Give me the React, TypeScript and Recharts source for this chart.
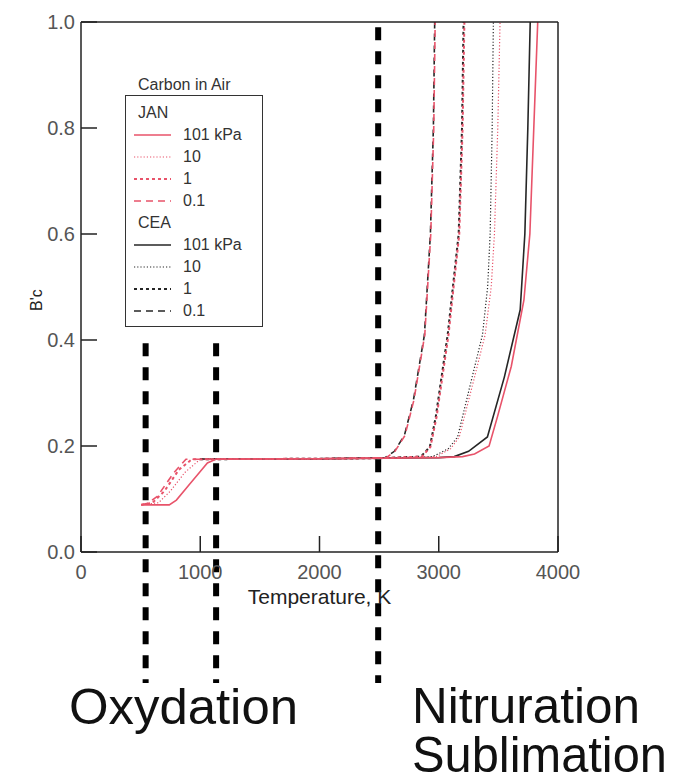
import React from 'react';
import { LineChart, Line, XAxis, YAxis, Legend, ReferenceLine } from 'recharts';

// temperatures (K) and B'c values, one pair of arrays per curve
const janTemp101 = [505, 740, 800, 900, 1000, 1060, 1130, 2000, 2500, 3000, 3200, 3300, 3422, 3492, 3608, 3714, 3764, 3797, 3830];
const janBc101 = [0.089, 0.089, 0.098, 0.125, 0.152, 0.168, 0.175, 0.176, 0.177, 0.178, 0.18, 0.185, 0.2, 0.255, 0.35, 0.475, 0.6, 0.8, 1.0];
const janTemp10 = [505, 650, 750, 870, 1000, 2000, 2500, 2980, 3100, 3172, 3300, 3389, 3440, 3467, 3495, 3514];
const janBc10 = [0.089, 0.093, 0.115, 0.15, 0.175, 0.176, 0.177, 0.18, 0.195, 0.217, 0.33, 0.41, 0.5, 0.6, 0.8, 1.0];
const janTemp1 = [505, 600, 700, 820, 930, 2000, 2500, 2860, 2930, 2982, 3082, 3172, 3200, 3215];
const janBc1 = [0.089, 0.093, 0.115, 0.155, 0.175, 0.176, 0.177, 0.18, 0.198, 0.255, 0.41, 0.6, 0.8, 1.0];
const janTemp01 = [505, 560, 640, 780, 880, 2000, 2560, 2633, 2717, 2792, 2883, 2933, 2958, 2970];
const janBc01 = [0.089, 0.092, 0.105, 0.15, 0.175, 0.176, 0.178, 0.19, 0.22, 0.287, 0.41, 0.6, 0.8, 1.0];

const ceaTemp101 = [1000, 2000, 2500, 3000, 3130, 3250, 3408, 3550, 3683, 3722, 3747, 3767];
const ceaBc101 = [0.175, 0.176, 0.177, 0.178, 0.18, 0.19, 0.217, 0.33, 0.457, 0.6, 0.8, 1.0];
const ceaTemp10 = [1000, 2000, 2500, 2950, 3080, 3158, 3280, 3367, 3410, 3431, 3448, 3458];
const ceaBc10 = [0.175, 0.176, 0.177, 0.18, 0.195, 0.217, 0.33, 0.41, 0.5, 0.6, 0.8, 1.0];
const ceaTemp1 = [1000, 2000, 2500, 2850, 2925, 2975, 3075, 3167, 3195, 3208];
const ceaBc1 = [0.175, 0.176, 0.177, 0.18, 0.198, 0.255, 0.41, 0.6, 0.8, 1.0];
const ceaTemp01 = [1000, 2000, 2550, 2628, 2712, 2788, 2880, 2930, 2955, 2966];
const ceaBc01 = [0.175, 0.176, 0.178, 0.19, 0.22, 0.287, 0.41, 0.6, 0.8, 1.0];

const pressures = ['101 kPa', '10', '1', '0.1'];
const xTicks = [0, 1000, 2000, 3000, 4000];
const yTicks = [0, 0.2, 0.4, 0.6, 0.8, 1.0];

// phase boundaries drawn as thick dashed markers (K), with their top ends (B'c)
const boundaryTemps = [542, 1133, 2492];
const boundaryTops = [0.394, 0.394, 0.99];
const boundaryBottom = -0.247;

const RED = '#e8536a';
const BLACK = '#262626';
const FONT = '"Liberation Sans", Arial, sans-serif';

const dashes = ['', '1.2 2', '3 3', '7 5'];
const widths = [1.6, 1.2, 2, 1.6];

const zip = (t: number[], b: number[]) => t.map((v, i) => ({ t: v, b: b[i] }));

const janData = [zip(janTemp101, janBc101), zip(janTemp10, janBc10), zip(janTemp1, janBc1), zip(janTemp01, janBc01)];
const ceaData = [zip(ceaTemp101, ceaBc101), zip(ceaTemp10, ceaBc10), zip(ceaTemp1, ceaBc1), zip(ceaTemp01, ceaBc01)];

const LegendRow = ({ color, i }: { color: string; i: number }) => (
  <div style={{ display: 'flex', alignItems: 'center', height: 22 }}>
    <svg width={57} height={22}>
      <line x1={8} x2={45} y1={11} y2={11} stroke={color} strokeWidth={widths[i]} strokeDasharray={dashes[i]} />
    </svg>
    <span>{pressures[i]}</span>
  </div>
);

const CarbonLegend = () => (
  <div style={{ fontFamily: FONT, fontSize: 16, color: '#333' }}>
    <div style={{ height: 21, lineHeight: '21px', marginLeft: 13 }}>Carbon in Air</div>
    <div
      style={{
        border: '1.5px solid #333',
        width: 138,
        height: 232,
        boxSizing: 'border-box',
        paddingTop: 6,
      }}
    >
      <div style={{ height: 22, lineHeight: '22px', marginLeft: 12 }}>JAN</div>
      {pressures.map((p, i) => (
        <LegendRow key={'j' + p} color={RED} i={i} />
      ))}
      <div style={{ height: 22, lineHeight: '22px', marginLeft: 12 }}>CEA</div>
      {pressures.map((p, i) => (
        <LegendRow key={'c' + p} color={BLACK} i={i} />
      ))}
    </div>
  </div>
);

const axisStroke = { stroke: '#222', strokeWidth: 1.5 };
const tickStyle = { fill: '#555', fontSize: 20, fontFamily: FONT };

export default function App() {
  return (
    <div style={{ position: 'absolute', left: 0, top: 0, background: '#fff' }}>
      <LineChart width={678} height={778} margin={{ top: 21, right: 119, left: 0, bottom: 166 }}>
        <XAxis
          type="number"
          dataKey="t"
          domain={[0, 4000]}
          ticks={xTicks}
          allowDataOverflow
          height={60}
          tickSize={-16}
          tickMargin={29}
          axisLine={axisStroke}
          tickLine={axisStroke}
          tick={tickStyle}
          label={{ value: 'Temperature, K', position: 'insideBottom', offset: 8, fill: '#222', fontSize: 21, fontFamily: FONT }}
        />
        <XAxis
          xAxisId="top"
          orientation="top"
          type="number"
          domain={[0, 4000]}
          ticks={[1000, 2000, 3000]}
          allowDataOverflow
          height={1}
          tickSize={-16}
          tick={false}
          axisLine={axisStroke}
          tickLine={axisStroke}
        />
        <YAxis
          type="number"
          dataKey="b"
          domain={[0, 1]}
          ticks={yTicks}
          allowDataOverflow
          width={81}
          tickSize={-16}
          tickMargin={22}
          axisLine={axisStroke}
          tickLine={axisStroke}
          tick={tickStyle}
          tickFormatter={(v: number) => v.toFixed(1)}
        />
        <YAxis
          yAxisId="right"
          orientation="right"
          type="number"
          domain={[0, 1]}
          ticks={[0.2, 0.4, 0.6, 0.8]}
          allowDataOverflow
          width={1}
          tickSize={-16}
          tick={false}
          axisLine={axisStroke}
          tickLine={axisStroke}
        />
        <Legend
          layout="vertical"
          align="center"
          verticalAlign="middle"
          wrapperStyle={{ left: 125, top: 74, width: 'auto', height: 'auto' }}
          content={<CarbonLegend />}
        />
        {ceaData.map((d, i) => (
          <Line
            key={'cea' + i}
            data={d}
            dataKey="b"
            name={'CEA ' + pressures[i]}
            type="linear"
            stroke={BLACK}
            strokeWidth={widths[i]}
            strokeDasharray={dashes[i]}
            dot={false}
            isAnimationActive={false}
          />
        ))}
        {janData.map((d, i) => (
          <Line
            key={'jan' + i}
            data={d}
            dataKey="b"
            name={'JAN ' + pressures[i]}
            type="linear"
            stroke={RED}
            strokeWidth={widths[i]}
            strokeDasharray={dashes[i]}
            dot={false}
            isAnimationActive={false}
          />
        ))}
        {boundaryTemps.map((t, i) => (
          <ReferenceLine
            key={'bd' + i}
            segment={[
              { x: t, y: boundaryTops[i] },
              { x: t, y: boundaryBottom },
            ]}
            ifOverflow="visible"
            stroke="#000"
            strokeWidth={6}
            strokeDasharray="13 11"
          />
        ))}
        <text x={36} y={300} transform="rotate(-90, 36, 300)" textAnchor="middle" dominantBaseline="central" fontFamily={FONT} fontSize={16} fill="#222">
          B'c
        </text>
        <g fontFamily={FONT} fontSize={50} fill="#111">
          <text x={69} y={724} textLength={229} lengthAdjust="spacingAndGlyphs">Oxydation</text>
          <text x={412} y={723} textLength={228} lengthAdjust="spacingAndGlyphs">Nitruration</text>
          <text x={412} y={772} textLength={255} lengthAdjust="spacingAndGlyphs">Sublimation</text>
        </g>
      </LineChart>
    </div>
  );
}
